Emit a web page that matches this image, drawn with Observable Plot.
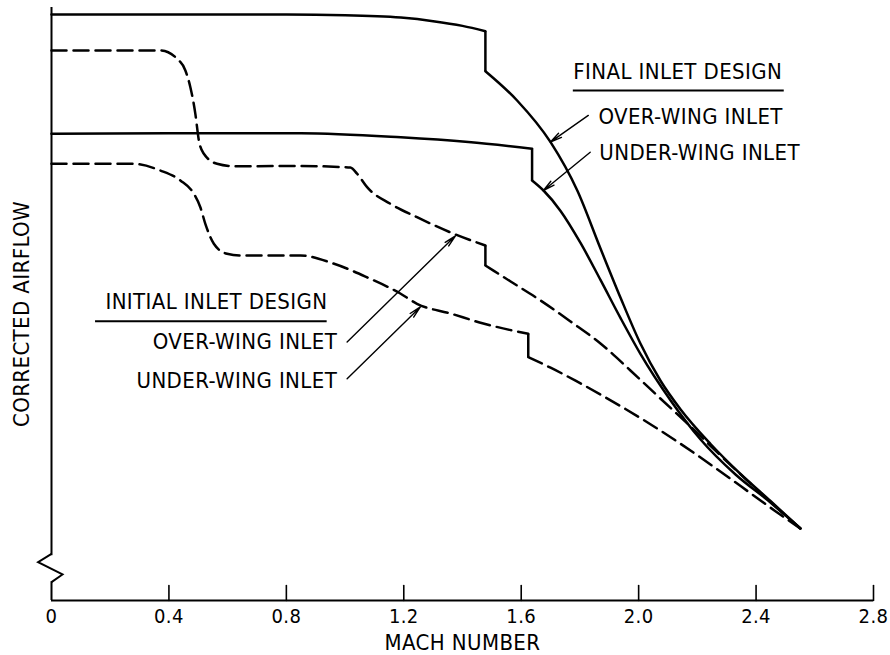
<!DOCTYPE html>
<html><head><meta charset="utf-8">
<script src="https://cdn.jsdelivr.net/npm/d3@7"></script>
<script src="https://cdn.jsdelivr.net/npm/@observablehq/plot@0.6"></script>
<style>
html,body{margin:0;padding:0;background:#fff;}
</style></head><body><div id="chart"></div>
<script>
// Mach number ticks
const machTicks = [0, 0.4, 0.8, 1.2, 1.6, 2.0, 2.4, 2.8];
const machTickLabels = ["0", "0.4", "0.8", "1.2", "1.6", "2.0", "2.4", "2.8"];
const xTitle = "MACH NUMBER";
const yTitle = "CORRECTED AIRFLOW";

// [mach, corrected airflow (relative units)] — before and after each step drop
const finalOverPre = [[0,98.8],[0.4,98.8],[0.8,98.8],[1.0,98.7],[1.19,98.3],[1.3,97.7],[1.4,96.9],[1.478,96.0]];
const finalOverPost = [[1.478,89.26],[1.586,84.32],[1.700,77.29],[1.791,69.14],[1.870,59.36],[1.938,51.10],[2.006,43.34],[2.074,37.10],[2.143,32.21],[2.245,26.39],[2.347,21.33],[2.449,16.78],[2.551,12.14]];

const finalUnderPre = [[0,78.7],[0.4,78.8],[0.85,78.8],[1.19,78.1],[1.42,77.3],[1.637,76.2]];
const finalUnderPost = [[1.637,70.83],[1.676,69.14],[1.734,65.70],[1.802,60.30],[1.870,54.06],[1.938,47.66],[2.006,41.59],[2.109,33.73],[2.211,27.15],[2.330,21.25],[2.449,16.53],[2.551,12.14]];

const initialOverPre = [[0,92.75],[0.371,92.75],[0.428,91.35],[0.456,89.38],[0.473,86.56],[0.490,82.07],[0.502,77.57],[0.519,75.33],[0.564,73.64],[0.621,73.24],[0.848,73.27],[0.984,73.1],[1.018,73.0],[1.041,71.96],[1.075,69.7],[1.154,66.9],[1.245,64.64],[1.370,61.84],[1.478,59.87]];
const initialOverPost = [[1.478,56.49],[1.564,53.79],[1.666,50.59],[1.768,47.05],[1.870,43.34],[1.972,38.79],[2.074,34.06],[2.177,29.34],[2.279,24.45],[2.381,19.73],[2.466,15.85],[2.551,12.14]];

const initialUnderPre = [[0,73.64],[0.279,73.64],[0.371,72.51],[0.439,70.83],[0.485,68.58],[0.507,66.32],[0.524,63.52],[0.553,60.15],[0.598,58.47],[0.644,58.18],[0.848,58.18],[0.960,56.83],[1.076,54.47],[1.188,51.77],[1.245,50.03],[1.359,48.40],[1.471,46.71],[1.624,44.98]];
const initialUnderPost = [[1.624,41.03],[1.700,39.26],[1.785,37.07],[1.870,34.74],[1.955,32.29],[2.040,29.73],[2.126,26.98],[2.211,24.11],[2.296,21.13],[2.381,18.09],[2.466,15.06],[2.551,12.14]];

// annotation labels (left-aligned group: final design; right-aligned group: initial design)
const finalLabelText = ["FINAL INLET DESIGN", "OVER-WING INLET", "UNDER-WING INLET"];
const finalLabelMach = [1.7775, 1.863, 1.866];
const finalLabelAirflow = [89.1, 81.6, 75.4];
const initialLabelText = ["INITIAL INLET DESIGN", "OVER-WING INLET", "UNDER-WING INLET"];
const initialLabelMach = [0.940, 0.973, 0.973];
const initialLabelAirflow = [50.3, 43.6, 37.1];

// underlines under group titles
const underlineAirflow = [86.0, 47.1];
const underlineFrom = [1.7775, 0.150];
const underlineTo = [2.496, 0.939];

// leader arrows: tail near label -> head on curve
const arrowTailMach = [1.8285, 1.835, 1.007, 1.007];
const arrowTailAirflow = [81.8, 75.6, 43.6, 37.4];
const arrowHeadMach = [1.699, 1.675, 1.376, 1.2565];
const arrowHeadAirflow = [77.3, 69.1, 61.5, 49.5];

// y-axis break position
const axisBreakAt = [5.45];

function rows(name, pre, post) {
  return [
    ...pre.map(([x, y]) => ({name, seg: "a", x, y})),
    ...post.map(([x, y]) => ({name, seg: "b", x, y}))
  ];
}
function drop(pre, post) {
  const a = pre[pre.length - 1], b = post[0];
  return {x1: a[0], y1: a[1], x2: b[0], y2: b[1]};
}
const finalRows = [...rows("fo", finalOverPre, finalOverPost), ...rows("fu", finalUnderPre, finalUnderPost)];
const initialRows = [...rows("io", initialOverPre, initialOverPost), ...rows("iu", initialUnderPre, initialUnderPost)];
const finalDrops = [drop(finalOverPre, finalOverPost), drop(finalUnderPre, finalUnderPost)];
const initialDrops = [drop(initialOverPre, initialOverPost), drop(initialUnderPre, initialUnderPost)];

const finalLabels = finalLabelText.map((t, i) => ({t, x: finalLabelMach[i], y: finalLabelAirflow[i]}));
const initialLabels = initialLabelText.map((t, i) => ({t, x: initialLabelMach[i], y: initialLabelAirflow[i]}));
const underlines = underlineAirflow.map((y, i) => ({y, x1: underlineFrom[i], x2: underlineTo[i]}));
const arrows = arrowTailMach.map((x, i) => ({x1: x, y1: arrowTailAirflow[i], x2: arrowHeadMach[i], y2: arrowHeadAirflow[i]}));

const tickUp = {draw(ctx, l) { ctx.moveTo(0, 0); ctx.lineTo(0, -l); }};
const zigzag = {draw(ctx) { ctx.moveTo(0, -14.4); ctx.lineTo(-13.4, -6); ctx.lineTo(11, 6.3); ctx.lineTo(0, 14); }};
const eraser = {draw(ctx) { ctx.moveTo(0, -13); ctx.lineTo(0, 13); }};

const dash = "15,7";
const fontFamily = "'Liberation Sans Narrow', 'DejaVu Sans Condensed', 'DejaVu Sans', sans-serif";

const chart = Plot.plot({
  width: 890,
  height: 655,
  marginLeft: 51,
  marginRight: 17,
  marginTop: 7,
  marginBottom: 55,
  x: {domain: [0, 2.8], axis: null},
  y: {domain: [0, 100], axis: null},
  style: {fontFamily, fontSize: "22px", letterSpacing: "0.4px", background: "white", color: "black"},
  marks: [
    Plot.ruleX([0], {stroke: "black", strokeWidth: 2}),
    Plot.ruleY([0], {stroke: "black", strokeWidth: 2}),
    Plot.dot(axisBreakAt, {x: () => 0, y: d => d, symbol: eraser, stroke: "white", strokeWidth: 5, fill: "none", r: 5}),
    Plot.dot(axisBreakAt, {x: () => 0, y: d => d, symbol: zigzag, stroke: "black", strokeWidth: 2, fill: "none", r: 5, strokeLinejoin: "miter"}),
    Plot.vector(machTicks.filter(d => d > 0), {x: d => d, frameAnchor: "bottom", length: 15, anchor: "start", shape: tickUp, stroke: "black", strokeWidth: 1.6}),
    Plot.text(machTicks, {x: d => d, frameAnchor: "bottom", lineAnchor: "middle", textAnchor: "middle", dy: 16, fontSize: 20, text: (d, i) => machTickLabels[i], fill: "black"}),
    Plot.text([xTitle], {frameAnchor: "bottom", lineAnchor: "middle", textAnchor: "middle", dy: 42, fill: "black"}),
    Plot.text([yTitle], {frameAnchor: "left", lineAnchor: "middle", textAnchor: "middle", dx: -30, dy: 10, rotate: -90, fill: "black"}),

    Plot.line(finalRows, {x: "x", y: "y", z: d => d.name + d.seg, curve: "monotone-x", stroke: "black", strokeWidth: 2.5}),
    Plot.link(finalDrops, {x1: "x1", y1: "y1", x2: "x2", y2: "y2", stroke: "black", strokeWidth: 2.5}),
    Plot.line(initialRows, {x: "x", y: "y", z: d => d.name + d.seg, curve: "monotone-x", stroke: "black", strokeWidth: 2.5, strokeDasharray: dash}),
    Plot.link(initialDrops, {x1: "x1", y1: "y1", x2: "x2", y2: "y2", stroke: "black", strokeWidth: 2.5}),

    Plot.arrow(arrows, {x1: "x1", y1: "y1", x2: "x2", y2: "y2", stroke: "black", strokeWidth: 1.4, headLength: 13, headAngle: 24}),
    Plot.ruleY(underlines, {y: "y", x1: "x1", x2: "x2", stroke: "black", strokeWidth: 2}),
    Plot.text(finalLabels, {x: "x", y: "y", text: "t", textAnchor: "start", lineAnchor: "middle", fill: "black"}),
    Plot.text(initialLabels, {x: "x", y: "y", text: "t", textAnchor: "end", lineAnchor: "middle", fill: "black"})
  ]
});
document.getElementById("chart").appendChild(chart);
</script>
</body></html>
